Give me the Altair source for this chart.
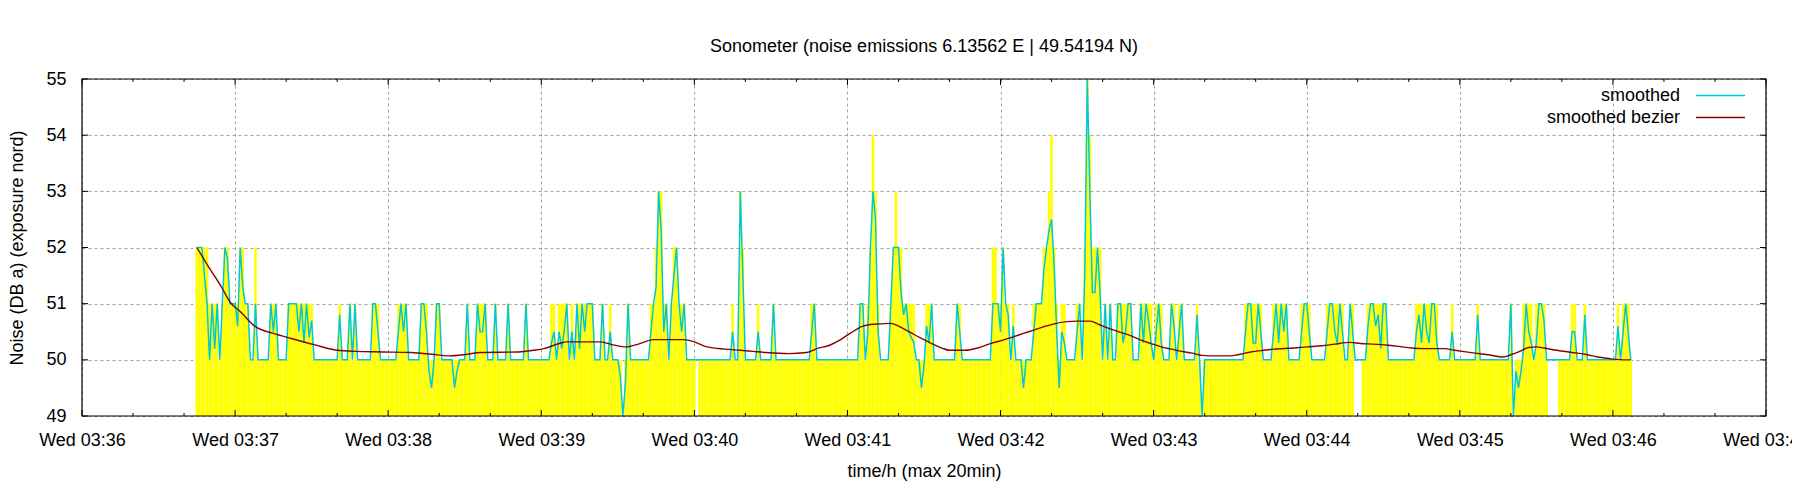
import altair as alt
import numpy as np
import pandas as pd

# sonometer log, one reading per second, first sample at 03:36:45
START_SEC = 45  # seconds after 03:36:00

# "smoothed" (mean of the readings in each second)
smoothed = [
    52, 52, 52, 51.5, 51, 50, 51, 50.2, 51, 50,
    51, 52, 51.8, 51, 51, 51, 50.6, 52, 51.3, 51,
    51, 50, 50, 51, 50, 50, 50, 50, 50, 51,
    50.5, 51, 50, 50, 50, 50, 51, 51, 51, 51,
    50.5, 51, 50.3, 51, 50.4, 50.7, 50, 50, 50, 50,
    50, 50, 50, 50, 50, 50, 50.8, 50, 50, 50,
    51, 50, 51, 50, 50, 50, 50, 50, 50, 51,
    51, 50.5, 50, 50, 50, 50, 50, 50, 50, 50.5,
    51, 50.5, 51, 50, 50, 50, 50, 50, 51, 51,
    50.5, 49.8, 49.5, 50, 51, 51, 50, 50, 50, 50,
    50, 49.5, 49.8, 50, 50, 50, 51, 50, 50, 50,
    51, 50.5, 50.5, 51, 50, 50, 50, 51, 50, 50,
    50, 50, 51, 50, 50, 50, 50, 50, 50, 51,
    50, 50, 50, 50, 50, 50, 50, 50, 50, 50.3,
    50.5, 50, 50.5, 50.2, 50.5, 51, 50, 50.5, 50, 51,
    50.2, 51, 50.5, 51, 51, 51, 50, 50, 50, 51,
    50, 50, 50.5, 50, 50, 50, 49.7, 49, 49.6, 51,
    50, 50, 50, 50, 50, 50, 50, 50, 50.5, 51,
    51.3, 53, 52.3, 50.5, 51, 50, 51, 51.5, 52, 51,
    50.5, 51, 50, 50, 50, 50, 50, 50, 50, 50,
    50, 50, 50, 50, 50, 50, 50, 50, 50, 50,
    50.5, 50, 50, 53, 51.5, 50, 50, 50, 50, 50,
    50.5, 50, 50, 50, 50, 50, 51, 50, 50, 50,
    50, 50, 50, 50, 50, 50, 50, 50, 50, 50,
    50, 50.5, 51, 50, 50, 50, 50, 50, 50, 50,
    50, 50, 50, 50, 50, 50, 50, 50, 50, 50,
    51, 51, 50, 50.5, 52, 53, 52.5, 50.5, 50, 50,
    50, 50, 51, 52, 52, 52, 51.2, 50.8, 51, 50.5,
    50.4, 50.3, 50, 50, 49.5, 49.9, 50.6, 50.3, 51, 50,
    50, 50, 50, 50, 50, 50, 50, 50, 51, 50.5,
    50, 50, 50, 50, 50, 50, 50, 50, 50, 50,
    50, 50, 51, 51, 51, 50.5, 52, 51, 50.8, 50,
    50.6, 50, 50, 50, 49.5, 50, 50, 50, 50.5, 51,
    51, 51, 51.6, 52, 52.3, 52.5, 51.7, 50.5, 49.5, 50.5,
    50.3, 50, 50, 50, 50, 50.5, 51, 50, 51.5, 55,
    53, 51.2, 51.2, 52, 51.2, 50, 51, 50, 51, 50,
    50, 51, 51, 50.3, 50.5, 51, 51, 50, 50, 50,
    51, 50.3, 51, 50.7, 50.3, 50, 50.5, 51, 50.3, 50,
    50, 50, 51, 50.6, 50, 50.5, 51, 50, 50, 50,
    50, 50, 50.8, 50, 49, 50, 50, 50, 50, 50,
    50, 50, 50, 50, 50, 50, 50, 50, 50, 50,
    50, 50.5, 51, 51, 50.3, 50.3, 51, 50.5, 50, 50,
    50, 50, 50.5, 51, 50.3, 51, 50.5, 51, 50, 50,
    50, 50, 50, 50.5, 51, 51, 50.5, 50, 50, 50,
    50, 50, 50, 50.5, 51, 51, 50.5, 50.3, 51, 50.5,
    50, 50, 51, 50.5, 50, 50, 50, 50, 50, 50.6,
    51, 51, 50.6, 50.8, 50.2, 51, 51, 50, 50, 50,
    50, 50, 50, 50, 50, 50, 50, 50, 50.5, 50.8,
    50.3, 51, 50.5, 50.3, 51, 51, 50.3, 50, 50, 50,
    50, 50, 50.5, 50, 50, 50, 50, 50, 50, 50,
    50, 50, 50.8, 50, 50, 50, 50, 50, 50, 50,
    50, 50, 50, 50, 50, 51, 49, 49.8, 49.5, 49.8,
    50.2, 51, 50.5, 50.3, 50, 50.3, 51, 51, 50.7, 50,
    50, 50, 50, 50, 50, 50, 50, 50, 50, 50.5,
    50.5, 50, 50, 50, 50.8, 50, 50, 50, 50, 50,
    50, 50, 50, 50, 50, 50, 50, 50.6, 50, 50.5,
    51, 50.5, 50,
]

# raw readings (highest in each second), None where nothing was logged
peak = [
    52, 52, 52, 52, 52, 51, 51, 51, 51, 50,
    51, 52, 52, 51, 51, 51, 51, 52, 52, 51,
    51, 50, 50, 52, 50, 50, 50, 50, 50, 51,
    51, 51, 50, 50, 50, 50, 51, 51, 51, 51,
    51, 51, 51, 51, 51, 51, 50, 50, 50, 50,
    50, 50, 50, 50, 50, 50, 51, 50, 50, 50,
    51, 50, 51, 50, 50, 50, 50, 50, 50, 51,
    51, 51, 50, 50, 50, 50, 50, 50, 50, 51,
    51, 51, 51, 50, 50, 50, 50, 50, 51, 51,
    51, 50, 50, 50, 51, 51, 50, 50, 50, 50,
    50, 50, 50, 50, 50, 50, 51, 50, 50, 50,
    51, 51, 51, 51, 50, 50, 50, 51, 50, 50,
    50, 50, 51, 50, 50, 50, 50, 50, 50, 51,
    50, 50, 50, 50, 50, 50, 50, 50, 50, 51,
    51, 50, 51, 51, 51, 51, 50, 51, 50, 51,
    51, 51, 51, 51, 51, 51, 50, 50, 50, 51,
    50, 50, 51, 50, 50, 50, 50, None, 50, 51,
    50, 50, 50, 50, 50, 50, 50, 50, 51, 51,
    52, 53, 53, 51, 51, 50, 51, 52, 52, 51,
    51, 51, 50, 50, 50, 50, None, 50, 50, 50,
    50, 50, 50, 50, 50, 50, 50, 50, 50, 50,
    51, 50, 50, 53, 52, 50, 50, 50, 50, 50,
    51, 50, 50, 50, 50, 50, 51, 50, 50, 50,
    50, 50, 50, 50, 50, 50, 50, 50, 50, 50,
    50, 51, 51, 50, 50, 50, 50, 50, 50, 50,
    50, 50, 50, 50, 50, 50, 50, 50, 50, 50,
    51, 51, 50, 51, 52, 54, 53, 51, 50, 50,
    50, 50, 51, 52, 53, 52, 52, 51, 51, 51,
    51, 51, 50, 50, 50, 50, 51, 51, 51, 50,
    50, 50, 50, 50, 50, 50, 50, 50, 51, 51,
    50, 50, 50, 50, 50, 50, 50, 50, 50, 50,
    50, 50, 52, 52, 51, 51, 52, 51, 51, 50,
    51, 50, 50, 50, 50, 50, 50, 50, 51, 51,
    51, 51, 52, 52, 53, 54, 52, 51, 50, 51,
    51, 50, 50, 50, 50, 51, 51, 50, 52, 55,
    54, 52, 52, 52, 52, 50, 51, 50, 51, 50,
    50, 51, 51, 51, 51, 51, 51, 50, 50, 50,
    51, 51, 51, 51, 51, 50, 51, 51, 51, 50,
    50, 50, 51, 51, 50, 51, 51, 50, 50, 50,
    50, 50, 51, 50, None, 50, 50, 50, 50, 50,
    50, 50, 50, 50, 50, 50, 50, 50, 50, 50,
    50, 51, 51, 51, 51, 51, 51, 51, 50, 50,
    50, 50, 51, 51, 51, 51, 51, 51, 50, 50,
    50, 50, 50, 51, 51, 51, 51, 50, 50, 50,
    50, 50, 50, 51, 51, 51, 51, 51, 51, 51,
    50, 50, 51, 51, None, None, None, 50, 50, 51,
    51, 51, 51, 51, 51, 51, 51, 50, 50, 50,
    50, 50, 50, 50, 50, 50, 50, 50, 51, 51,
    51, 51, 51, 51, 51, 51, 51, 50, 50, 50,
    50, 50, 51, 50, 50, 50, 50, 50, 50, 50,
    50, 50, 51, 50, 50, 50, 50, 50, 50, 50,
    50, 50, 50, 50, 50, 51, None, 50, 50, 50,
    51, 51, 51, 51, 50, 51, 51, 51, 51, 50,
    None, None, None, None, 50, 50, 50, 50, 50, 51,
    51, 50, 50, 50, 51, 50, 50, 50, 50, 50,
    50, 50, 50, 50, 50, 50, 50, 51, 50, 51,
    51, 51, 50,
]

bezier_sec = [
    0, 4, 10, 13, 17, 23, 30, 37, 46, 55, 62, 73, 84, 92, 99, 106, 111, 126,
    132, 136, 142, 145, 158, 162, 168, 173, 179, 191, 195, 200, 207, 213, 218,
    223, 232, 239, 243, 248, 252, 256, 261, 264, 268, 272, 275, 278, 280, 284,
    288, 292, 295, 301, 306, 311, 316, 320, 324, 328, 332, 336, 341, 345, 350,
    354, 358, 362, 366, 370, 374, 378, 382, 386, 390, 394, 400, 405, 408, 413,
    418, 422, 430, 435, 441, 446, 452, 456, 461, 467, 471, 476, 481, 489, 493,
    496, 501, 506, 512, 515, 519, 522, 525, 528, 533, 539, 544, 549, 554, 560,
    562,
]
bezier_db = [
    52.0, 51.7, 51.27, 51.03, 50.86, 50.59, 50.47, 50.38, 50.27, 50.17, 50.15,
    50.14, 50.13, 50.10, 50.07, 50.10, 50.13, 50.14, 50.17, 50.20, 50.29, 50.32,
    50.32, 50.28, 50.23, 50.28, 50.36, 50.36, 50.32, 50.23, 50.19, 50.17, 50.15,
    50.13, 50.11, 50.13, 50.20, 50.26, 50.35, 50.47, 50.60, 50.63, 50.64, 50.65,
    50.60, 50.53, 50.48, 50.38, 50.29, 50.21, 50.17, 50.17, 50.21, 50.29, 50.35,
    50.41, 50.47, 50.53, 50.59, 50.64, 50.68, 50.69, 50.69, 50.62, 50.55, 50.49,
    50.43, 50.35, 50.29, 50.23, 50.19, 50.15, 50.12, 50.08, 50.07, 50.07, 50.09,
    50.14, 50.17, 50.19, 50.21, 50.23, 50.25, 50.28, 50.31, 50.29, 50.28, 50.26,
    50.24, 50.21, 50.20, 50.20, 50.17, 50.15, 50.12, 50.09, 50.05, 50.09, 50.16,
    50.22, 50.23, 50.21, 50.17, 50.13, 50.10, 50.05, 50.02, 50.0, 50.0,
]

legend_labels = ["smoothed", "smoothed bezier"]
y_ticks = [49, 50, 51, 52, 53, 54, 55]
minute_ticks = list(range(0, 661, 60))  # 03:36 ... 03:47
minor_ticks = [t for t in range(0, 661, 20) if t % 60]

W, H = 1684, 337
FONT = "Liberation Sans"
CYAN = "#00c8d8"
DARKRED = "#8b0000"
GRID = "#a0a0a0"

samples = pd.DataFrame({
    "t": np.arange(len(smoothed)) + START_SEC,
    "smoothed": smoothed,
    "peak": peak,
})
bezier = pd.DataFrame({"t": np.array(bezier_sec) + START_SEC, "db": bezier_db})

xscale = alt.Scale(domain=[0, 660], nice=False, zero=False)
yscale = alt.Scale(domain=[49, 55], nice=False, zero=False)

x_axis = alt.Axis(
    values=minute_ticks,
    labelExpr="'Wed 03:' + (36 + datum.value / 60)",
    grid=True, gridDash=[3, 3], gridColor=GRID,
    ticks=False, tickSize=0, domain=False,
    labelFlush=False, labelOverlap=False,
    labelPadding=24, labelBaseline="middle",
    title="time/h (max 20min)", titleX=W / 2, titleY=55, titleBaseline="middle",
)
y_axis = alt.Axis(
    values=y_ticks,
    grid=True, gridDash=[3, 3], gridColor=GRID,
    ticks=False, tickSize=0, domain=False,
    labelFlush=False, labelOverlap=False, labelPadding=16,
    title="Noise (DB a) (exposure nord)", titleX=-65, titleY=H / 2,
    titleBaseline="middle",
)


def X(field):
    return alt.X(field, scale=xscale, axis=x_axis)


def Y(field):
    return alt.Y(field, scale=yscale, axis=y_axis)


# raw readings as impulses
impulses = alt.Chart(samples).transform_filter(
    "isValid(datum.peak)"
).transform_calculate(
    t0="datum.t - 0.5", t1="datum.t + 0.5"
).mark_rect(color="#ffff00").encode(
    x=X("t0:Q"), x2="t1:Q",
    y=Y("peak:Q"), y2=alt.datum(49),
)

smooth_line = alt.Chart(samples).mark_line(color=CYAN, strokeWidth=1.5).encode(
    x=X("t:Q"), y=Y("smoothed:Q")
)

bezier_line = alt.Chart(bezier).mark_line(
    color=DARKRED, strokeWidth=1.4, interpolate="monotone"
).encode(x=X("t:Q"), y=Y("db:Q"))

# gnuplot style inward ticks on all four borders
xt = pd.DataFrame({"t": minute_ticks})
xm = pd.DataFrame({"t": minor_ticks})
yt = pd.DataFrame({"v": y_ticks})
tick_layers = [
    alt.Chart(xt).mark_rule(color="black").encode(x=X("t:Q"), y=alt.value(0), y2=alt.value(6)),
    alt.Chart(xt).mark_rule(color="black").encode(x=X("t:Q"), y=alt.value(H - 6), y2=alt.value(H)),
    alt.Chart(xm).mark_rule(color="black").encode(x=X("t:Q"), y=alt.value(0), y2=alt.value(3)),
    alt.Chart(xm).mark_rule(color="black").encode(x=X("t:Q"), y=alt.value(H - 3), y2=alt.value(H)),
    alt.Chart(yt).mark_rule(color="black").encode(y=Y("v:Q"), x=alt.value(0), x2=alt.value(6)),
    alt.Chart(yt).mark_rule(color="black").encode(y=Y("v:Q"), x=alt.value(W - 6), x2=alt.value(W)),
]

one = pd.DataFrame({"a": [0]})
frame = alt.Chart(one).mark_rect(filled=False, stroke="black", strokeWidth=1.2).encode(
    x=alt.value(0), x2=alt.value(W), y=alt.value(0), y2=alt.value(H)
)

# legend, top right inside the plot
legend_layers = []
for i, (label, color) in enumerate(zip(legend_labels, [CYAN, DARKRED])):
    ly = 16.5 + 22 * i
    legend_layers.append(
        alt.Chart(one).mark_text(
            text=label, align="right", baseline="middle",
            font=FONT, fontSize=18, color="black"
        ).encode(x=alt.value(W - 86), y=alt.value(ly))
    )
    legend_layers.append(
        alt.Chart(one).mark_rule(color=color, strokeWidth=1.5).encode(
            x=alt.value(W - 70), x2=alt.value(W - 21), y=alt.value(ly)
        )
    )

chart = alt.layer(
    impulses, *tick_layers, smooth_line, bezier_line, frame, *legend_layers
).properties(
    width=W,
    height=H,
    title=alt.Title(
        "Sonometer (noise emissions 6.13562 E | 49.54194 N)",
        font=FONT, fontSize=18, fontWeight="normal", color="black",
        anchor="middle", frame="group", baseline="alphabetic", offset=0,
    ),
    padding={"left": 74, "top": 71, "right": 26, "bottom": 76},
    autosize=alt.AutoSizeParams(type="none"),
).configure_view(
    stroke=None
).configure_axis(
    labelFont=FONT, titleFont=FONT, labelFontSize=18, titleFontSize=18,
    labelColor="black", titleColor="black", titleFontWeight="normal",
)

chart.save("out.html", embed_options={"renderer": "svg", "actions": False})
